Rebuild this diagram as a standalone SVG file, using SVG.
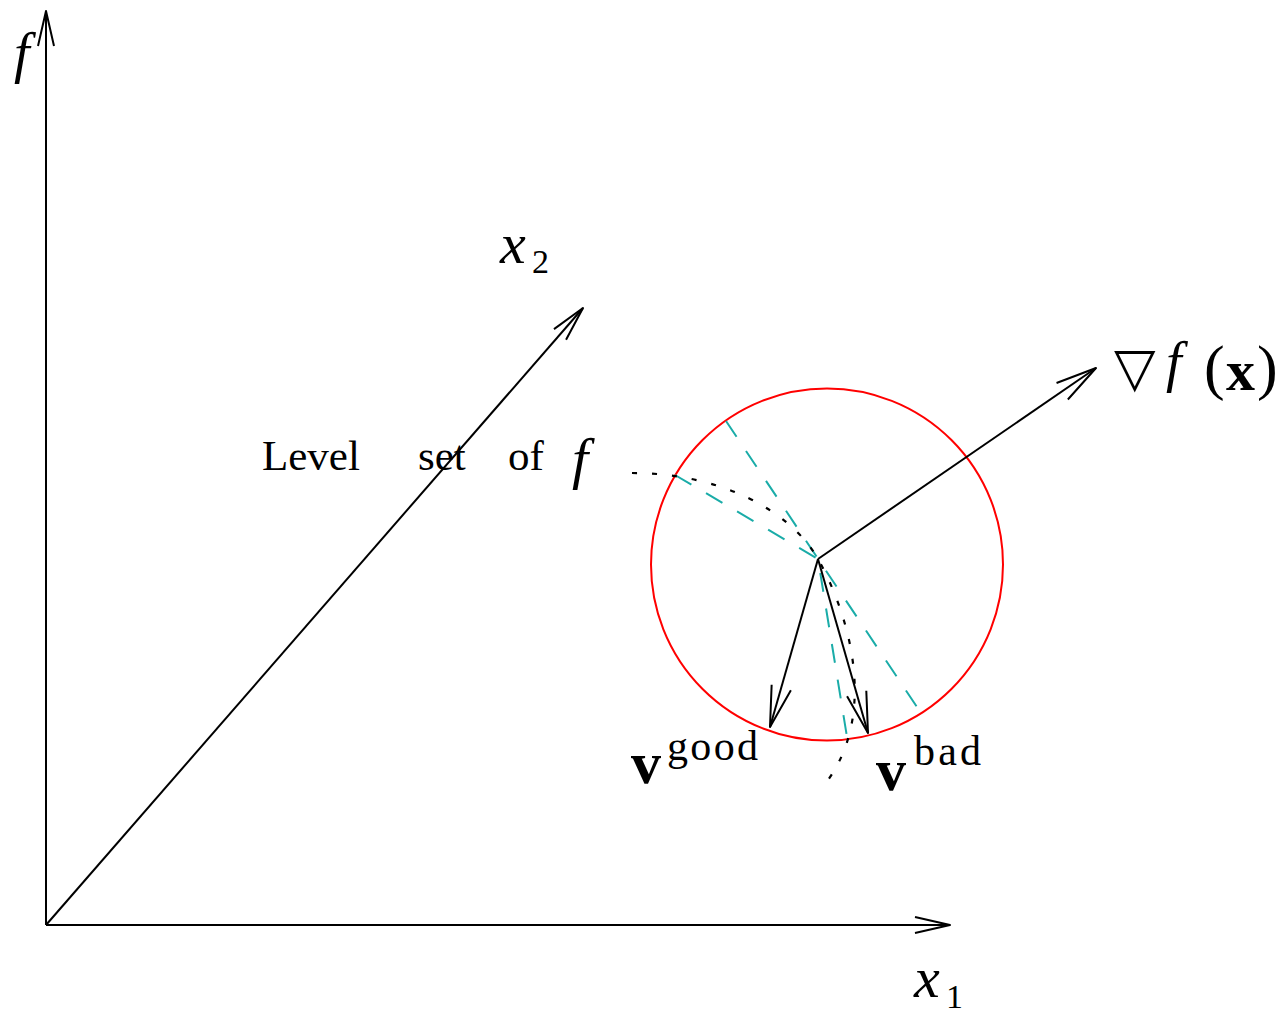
<svg xmlns="http://www.w3.org/2000/svg" width="1282" height="1014" viewBox="0 0 1282 1014">
  <style>
    .ln { fill: none; stroke: #000; stroke-width: 2; stroke-linecap: butt; }
    .cy { fill: none; stroke: #1aaca8; stroke-width: 2; stroke-dasharray: 19 17; }
    .dot { fill: none; stroke: #000; stroke-width: 2.2; stroke-dasharray: 5 15; }
    .t { font-family: "Liberation Serif", "Times New Roman", serif; fill: #000; }
    .it { font-style: italic; }
    .bf { font-weight: bold; }
  </style>
  <defs>
    <marker id="ahAxis" markerUnits="userSpaceOnUse" viewBox="-40 -15 45 30" refX="0" refY="0" markerWidth="45" markerHeight="30" orient="auto">
      <path d="M-35,-8 L0,0 L-35,8" fill="none" stroke="#000" stroke-width="2" stroke-linejoin="round"/>
    </marker>
    <marker id="ahVec" markerUnits="userSpaceOnUse" viewBox="-45 -15 50 30" refX="0" refY="0" markerWidth="50" markerHeight="30" orient="auto">
      <path d="M-41,-10 L0,0 L-41,10" fill="none" stroke="#000" stroke-width="2" stroke-linejoin="round"/>
    </marker>
  </defs>

  <g id="circle">
    <circle cx="827" cy="564.5" r="176" fill="none" stroke="#ff0000" stroke-width="2"/>
  </g>

  <g id="connectors">
    <path id="axis-f" class="ln" d="M46,925 V11" marker-end="url(#ahAxis)"/>
    <path id="axis-x1" class="ln" d="M46,925 H950" marker-end="url(#ahAxis)"/>
    <path id="axis-x2" class="ln" d="M46,925 L583,308" marker-end="url(#ahAxis)"/>
    <path id="tangent-1" class="cy" d="M726,421 L921,713"/>
    <path id="tangent-2" class="cy" d="M675,475 L818,559 L847.5,740"/>
    <path id="level-set" class="dot" d="M632,473 C720,473 790,510 818,559 C848,612 878,710 828,780"/>
    <path id="grad" class="ln" d="M818,559 L1096,368" marker-end="url(#ahVec)"/>
    <path id="v-good" class="ln" d="M818,559 L770,727" marker-end="url(#ahVec)"/>
    <path id="v-bad" class="ln" d="M818,559 L868,733" marker-end="url(#ahVec)"/>
  </g>

  <g id="label-f">
    <text class="t it" font-family="Liberation Serif, serif" x="14" y="72" font-size="56">f</text>
  </g>
  <g id="label-x2">
    <text class="t" font-family="Liberation Serif, serif" y="263"><tspan class="it" x="500" font-size="58">x</tspan><tspan x="532" y="273" font-size="34">2</tspan></text>
  </g>
  <g id="label-x1">
    <text class="t" font-family="Liberation Serif, serif" y="997"><tspan class="it" x="914" font-size="58">x</tspan><tspan x="946" y="1008" font-size="34">1</tspan></text>
  </g>
  <g id="label-level-set">
    <text class="t" font-family="Liberation Serif, serif" y="470" font-size="43"><tspan x="262">Level</tspan><tspan x="418">set</tspan><tspan x="508">of</tspan><tspan class="it" x="572" y="478" font-size="58">f</tspan></text>
  </g>
  <g id="label-grad">
    <text class="t" font-family="Liberation Serif, serif"><tspan x="1114" y="386" font-family="DejaVu Sans, sans-serif" font-size="54">▽</tspan><tspan class="it" x="1166" y="381" font-size="56">f</tspan><tspan x="1204" y="388" font-size="62">(</tspan><tspan class="bf" x="1226" y="390" font-size="58">x</tspan><tspan x="1257" y="388" font-size="62">)</tspan></text>
  </g>
  <g id="label-vgood">
    <text class="t" font-family="Liberation Serif, serif"><tspan class="bf" x="631" y="783" font-size="60">v</tspan><tspan x="667" y="760" font-size="42" textLength="91" lengthAdjust="spacing">good</tspan></text>
  </g>
  <g id="label-vbad">
    <text class="t" font-family="Liberation Serif, serif"><tspan class="bf" x="876" y="790" font-size="60">v</tspan><tspan x="914" y="765" font-size="42" textLength="67" lengthAdjust="spacing">bad</tspan></text>
  </g>
</svg>
